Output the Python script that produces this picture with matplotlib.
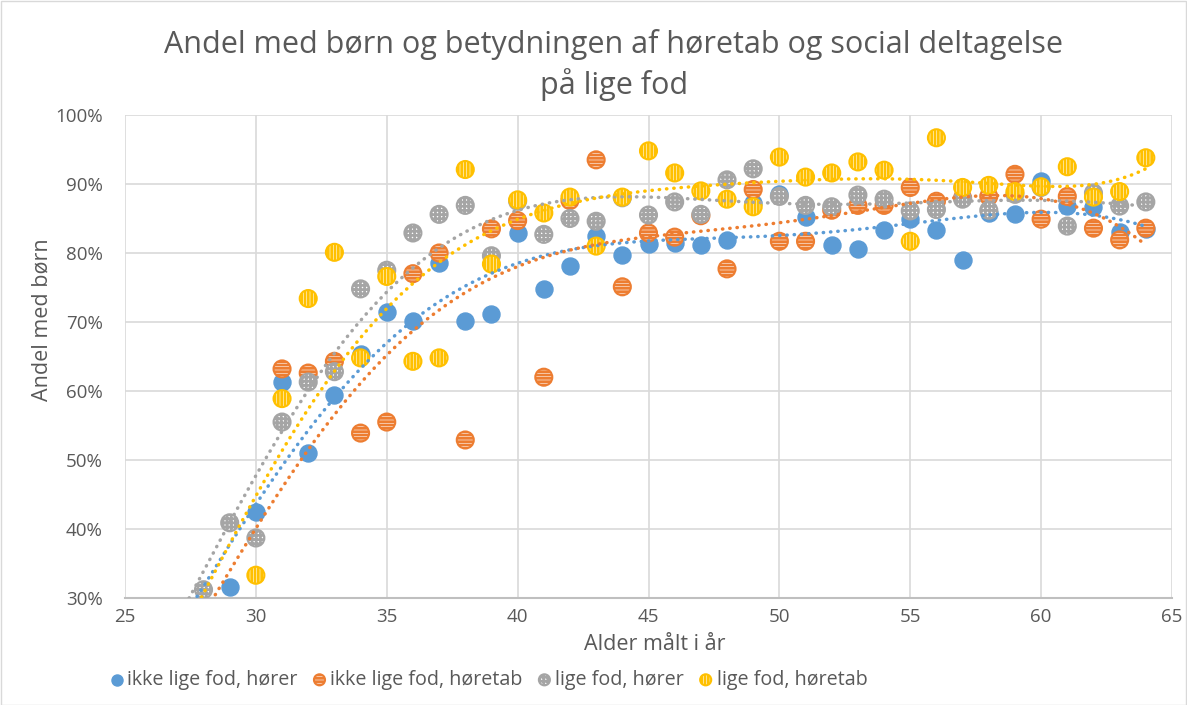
import numpy as np
import matplotlib.pyplot as plt
from matplotlib.patches import Rectangle

plt.rcParams['font.family'] = ['Open Sans', 'DejaVu Sans']
plt.rcParams['hatch.linewidth'] = 2.0

# data (andel med børn i %); values below 30% fall outside the axis but feed the trendlines
alder_ikke_hoerer = list(range(20, 65))
ikke_hoerer = [3.0, 4.0, 6.0, 8.0, 11.0, 15.0, 19.0, 23.0, 27.0,
               31.6, 42.5, 61.3, 51.0, 59.4, 65.4, 71.4, 70.1, 78.5, 70.2, 71.1, 82.9,
               74.8, 78.1, 82.5, 79.7, 81.3, 81.4, 81.1, 81.9, 87.3, 88.5, 85.2, 81.2,
               80.6, 83.3, 85.0, 83.3, 79.0, 85.8, 85.6, 90.4, 86.8, 86.7, 83.0, 83.5]

alder_ikke_tab = list(range(20, 65))
ikke_tab = [2.0, 3.0, 4.0, 6.0, 8.0, 11.0, 14.0, 18.0, 22.0, 26.0, 29.0,
            63.2, 62.6, 64.3, 53.9, 55.5, 77.0, 80.0, 52.9, 83.5, 84.7, 62.0, 87.6,
            93.5, 75.1, 82.9, 82.3, 85.4, 77.7, 89.2, 81.7, 81.7, 86.2, 86.9, 86.9,
            89.5, 87.5, 88.0, 88.2, 91.4, 84.9, 88.2, 83.6, 81.9, 83.6]

alder_lige_hoerer = list(range(20, 65))
lige_hoerer = [2.0, 3.0, 5.0, 7.0, 10.0, 14.0, 19.0, 25.0,
               31.2, 40.9, 38.7, 55.5, 61.3, 62.8, 74.8, 77.5, 82.9, 85.6, 86.9, 79.6,
               87.5, 82.7, 85.0, 84.6, 88.0, 85.5, 87.4, 85.6, 90.6, 92.2, 88.2, 86.9,
               86.7, 88.4, 87.8, 86.1, 86.3, 87.8, 86.2, 88.5, 89.5, 83.9, 88.7, 86.8, 87.4]

alder_lige_tab = list(range(20, 65))
lige_tab = [2.0, 3.0, 4.0, 6.0, 8.0, 11.0, 15.0, 19.0, 24.0, 28.0,
            33.3, 58.9, 73.4, 80.1, 64.8, 76.6, 64.3, 64.8, 92.1, 78.4, 87.7, 85.8,
            88.1, 81.0, 88.1, 94.8, 91.6, 89.0, 87.8, 86.7, 93.9, 91.0, 91.6, 93.2,
            92.0, 81.7, 96.7, 89.5, 89.8, 88.9, 89.6, 92.5, 88.1, 88.9, 93.8]

serier = [
    ("ikke lige fod, hører", alder_ikke_hoerer, ikke_hoerer, '#5B9BD5', None),
    ("ikke lige fod, høretab", alder_ikke_tab, ikke_tab, '#ED7D31', '-----'),
    ("lige fod, hører", alder_lige_hoerer, lige_hoerer, '#A5A5A5', '++++'),
    ("lige fod, høretab", alder_lige_tab, lige_tab, '#FFC000', '|||||'),
]

W, H = 1187, 705
fig = plt.figure(figsize=(W / 100, H / 100), dpi=100)
ax = fig.add_axes([125 / W, (H - 598) / H, (1172 - 125) / W, (598 - 115) / H])

tekst = '#595959'
handles = []
for navn, xs, ys, farve, hatch in serier:
    xa, ya = np.array(xs, dtype=float), np.array(ys)
    synlig = ya >= 30  # Excel hides points outside the axis range
    if hatch is None:
        h = ax.scatter(xa[synlig], ya[synlig], s=150, color=farve, edgecolor=farve,
                       zorder=3, label=navn)
    else:
        h = ax.scatter(xa[synlig], ya[synlig], s=150, facecolor='white', edgecolor=farve,
                       hatch=hatch, linewidth=1.5, zorder=3, label=navn)
    handles.append(h)

# polynomial trendlines (Excel style, order 6)
for navn, xs, ys, farve, hatch in serier:
    xa = np.array(xs, dtype=float)
    c = np.polyfit(xa - 45, ys, 6)
    xx = np.linspace(xa.min(), xa.max(), 400)
    ax.plot(xx, np.polyval(c, xx - 45), color=farve, lw=2.5,
            linestyle=(0, (0.1, 2.0)), dash_capstyle='round', zorder=4)

ax.set_xlim(25, 65)
ax.set_ylim(30, 100)
ax.set_xticks(range(25, 66, 5))
ax.set_yticks(range(30, 101, 10))
ax.set_yticklabels([f"{v}%" for v in range(30, 101, 10)])
ax.tick_params(length=0, labelsize=13.5, colors=tekst)
ax.tick_params(axis='y', pad=16)
ax.tick_params(axis='x', pad=7)
ax.grid(True, color='#D9D9D9', lw=1.2)
ax.set_axisbelow(True)
for s in ['top', 'right', 'left']:
    ax.spines[s].set_visible(False)
ax.spines['bottom'].set_color('#BFBFBF')
ax.spines['bottom'].set_linewidth(1.5)

fig.text(614 / W, 1 - 45 / H, "Andel med børn og betydningen af høretab og social deltagelse",
         ha='center', va='center', fontsize=22, color=tekst)
fig.text(614 / W, 1 - 85 / H, "på lige fod", ha='center', va='center', fontsize=22, color=tekst)
fig.text(655 / W, 1 - 645 / H, "Alder målt i år", ha='center', va='center', fontsize=15.5, color=tekst)
fig.text(42 / W, 1 - 320 / H, "Andel med børn", ha='center', va='center', rotation=90,
         fontsize=15.5, color=tekst)

leg = fig.legend(handles=handles, loc='center', bbox_to_anchor=(487 / W, 1 - 680 / H), ncol=4,
                 frameon=False, fontsize=14.2, handletextpad=0.05, columnspacing=0.6,
                 handlelength=1.0, markerscale=0.65, labelcolor=tekst)

fig.patches.append(Rectangle((0.5 / W, 0.5 / H), 1 - 1.5 / W, 1 - 1.5 / H, transform=fig.transFigure,
                             fill=False, edgecolor='#D9D9D9', lw=1))

fig.savefig('out.png', dpi=100)
